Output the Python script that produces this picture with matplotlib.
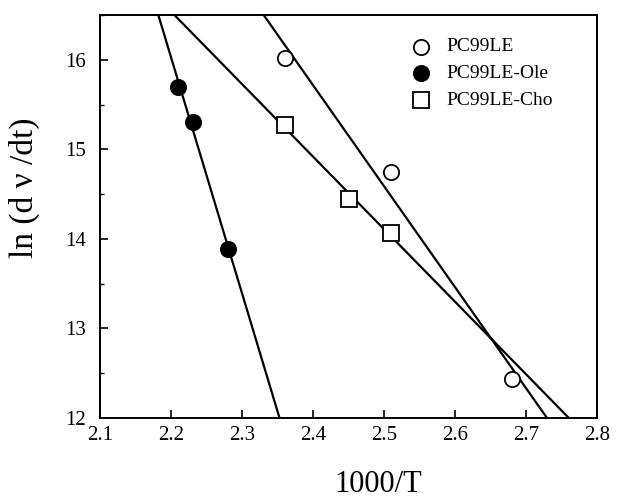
import numpy as np
import matplotlib.pyplot as plt
from matplotlib.ticker import MultipleLocator, FormatStrFormatter

plt.rcParams['font.family'] = ['Liberation Serif', 'DejaVu Serif']

# data
x_le = [2.36, 2.51, 2.68]
y_le = [16.02, 14.75, 12.43]

x_ole = [2.21, 2.23, 2.28]
y_ole = [15.70, 15.31, 13.89]

x_cho = [2.36, 2.45, 2.51]
y_cho = [15.27, 14.44, 14.07]

fig = plt.figure(figsize=(6.23, 5.01), dpi=100)
ax = fig.add_axes([0.161, 0.166, 0.797, 0.804])

# straight fit line through each series
fx = np.linspace(2.0, 2.9, 200)
for xs, ys in [(x_le, y_le), (x_ole, y_ole), (x_cho, y_cho)]:
    fp = np.polyfit(xs, ys, 1)
    ax.plot(fx, np.poly1d(fp)(fx), color='black', lw=1.6, zorder=2)

ax.plot(x_le, y_le, 'o', ms=11, mfc='white', mec='black', mew=1.3, ls='none', zorder=3)
ax.plot(x_ole, y_ole, 'o', ms=11, mfc='black', mec='black', mew=1.3, ls='none', zorder=3)
ax.plot(x_cho, y_cho, 's', ms=11, mfc='white', mec='black', mew=1.3, ls='none', zorder=3)

# legend drawn by hand like the original
labels = ['PC99LE', 'PC99LE-Ole', 'PC99LE-Cho']
styles = [('o', 'white'), ('o', 'black'), ('s', 'white')]
for i, (lab, (m, fc)) in enumerate(zip(labels, styles)):
    yy = 0.921 - i * 0.066
    ax.plot([0.646], [yy], m, ms=11, mfc=fc, mec='black', mew=1.3,
            transform=ax.transAxes, clip_on=False)
    ax.text(0.698, yy, lab, transform=ax.transAxes, fontsize=14, va='center', ha='left')

ax.set_xlim(2.1, 2.8)
ax.set_ylim(12, 16.5)
ax.xaxis.set_major_locator(MultipleLocator(0.1))
ax.xaxis.set_major_formatter(FormatStrFormatter('%.1f'))
ax.yaxis.set_major_locator(MultipleLocator(1))
ax.yaxis.set_minor_locator(MultipleLocator(0.5))
ax.tick_params(direction='in', length=6, width=1.2, labelsize=15, top=False, right=False)
ax.tick_params(axis='y', pad=10)
ax.tick_params(axis='x', pad=6)
ax.tick_params(which='minor', direction='in', length=3, width=1.0, left=True, bottom=False)
for s in ax.spines.values():
    s.set_linewidth(1.4)

ax.set_xlabel('1000/T', fontsize=22)
ax.set_ylabel('ln (d ν /dt)', fontsize=24)
ax.xaxis.set_label_coords(0.559, -0.13)
ax.yaxis.set_label_coords(-0.122, 0.571)

fig.savefig('out.png', dpi=100)
